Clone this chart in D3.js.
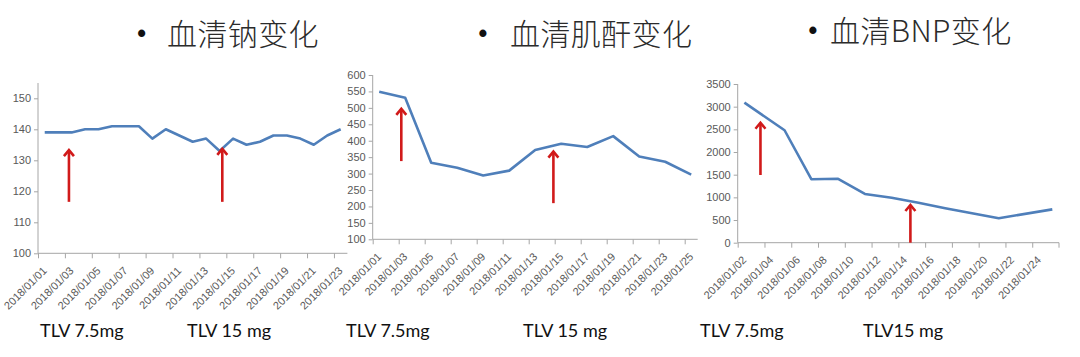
<!DOCTYPE html>
<html>
<head>
<meta charset="utf-8">
<script src="https://cdn.jsdelivr.net/npm/d3@7"></script>
<style>
  html, body { margin: 0; padding: 0; background: #ffffff; }
  svg { display: block; }
</style>
</head>
<body>
<svg id="chart" width="1080" height="357"></svg>
<script>
// ---------- DATA ----------
const titles = ["血清钠变化", "血清肌酐变化", "血清BNP变化"];

// Serum sodium
const naDates = ["2018/01/01","2018/01/02","2018/01/03","2018/01/04","2018/01/05","2018/01/06","2018/01/07","2018/01/08",
  "2018/01/09","2018/01/10","2018/01/11","2018/01/12","2018/01/13","2018/01/14","2018/01/15","2018/01/16",
  "2018/01/17","2018/01/18","2018/01/19","2018/01/20","2018/01/21","2018/01/22","2018/01/23"];
const naValues = [139,139,139,140,140,141,141,141,137,140,138,136,137,133,137,135,136,138,138,137,135,138,140];
const naTickLabels = ["2018/01/01","2018/01/03","2018/01/05","2018/01/07","2018/01/09","2018/01/11",
  "2018/01/13","2018/01/15","2018/01/17","2018/01/19","2018/01/21","2018/01/23"];
const naYTicks = [100,110,120,130,140,150];
const naArrows = [ {at:"2018/01/03", shift:-0.2, from:116.6, to:133.6},
                   {at:"2018/01/14", shift:0.2, from:116.6, to:134} ];
const naNotes = ["TLV 7.5mg", "TLV 15 mg"];

// Serum creatinine
const crDates = ["2018/01/01","2018/01/03","2018/01/05","2018/01/07","2018/01/09","2018/01/11","2018/01/13",
  "2018/01/15","2018/01/17","2018/01/19","2018/01/21","2018/01/23","2018/01/25"];
const crValues = [549,531,333,318,294,309,372,391,381,414,352,336,297];
const crTickLabels = ["2018/01/01","2018/01/03","2018/01/05","2018/01/07","2018/01/09","2018/01/11","2018/01/13",
  "2018/01/15","2018/01/17","2018/01/19","2018/01/21","2018/01/23","2018/01/25"];
const crYTicks = [100,150,200,250,300,350,400,450,500,550,600];
const crArrows = [ {at:"2018/01/03", shift:-0.3, from:338, to:500},
                   {at:"2018/01/14", shift:0.4, from:210, to:370} ];
const crNotes = ["TLV 7.5mg", "TLV 15 mg"];

// Serum BNP
const bnpDates = ["2018/01/02","2018/01/05","2018/01/07","2018/01/09","2018/01/11","2018/01/13","2018/01/15",
  "2018/01/17","2018/01/19","2018/01/21","2018/01/25"];
const bnpValues = [3090,2480,1400,1410,1075,990,880,760,650,540,735];
const bnpTickLabels = ["2018/01/02","2018/01/04","2018/01/06","2018/01/08","2018/01/10","2018/01/12",
  "2018/01/14","2018/01/16","2018/01/18","2018/01/20","2018/01/22","2018/01/24"];
const bnpYTicks = [0,500,1000,1500,2000,2500,3000,3500];
const bnpArrows = [ {at:"2018/01/03", shift:0.2, from:1493, to:2668},
                    {at:"2018/01/14", shift:0.4, from:0, to:853} ];
const bnpNotes = ["TLV 7.5mg", "TLV15 mg"];

// ---------- LAYOUT ----------
const parse = d3.timeParse("%Y/%m/%d");
const DAY = 864e5;

const panels = [
  { title: titles[0], bulletX: 141.7, bulletY: 34, titleX: 167, titleY: 45,
    dates: naDates, values: naValues, ticks: naTickLabels, yTicks: naYTicks, arrows: naArrows, notes: naNotes,
    start: "2018/01/01", days: 23, left: 38, right: 347.4, top: 98.3, bottom: 253.3, axisTop: 83,
    yDomain: [100,150], endTick: false, noteX: [40, 187] },
  { title: titles[1], bulletX: 483, bulletY: 34, titleX: 510, titleY: 45,
    dates: crDates, values: crValues, ticks: crTickLabels, yTicks: crYTicks, arrows: crArrows, notes: crNotes,
    start: "2018/01/01", days: 25, left: 372.7, right: 697.7, top: 75, bottom: 239.3, axisTop: 75,
    yDomain: [100,600], endTick: false, noteX: [346, 523] },
  { title: titles[2], bulletX: 813, bulletY: 31, titleX: 830, titleY: 42,
    dates: bnpDates, values: bnpValues, ticks: bnpTickLabels, yTicks: bnpYTicks, arrows: bnpArrows, notes: bnpNotes,
    start: "2018/01/02", days: 24, left: 737.7, right: 1059, top: 84, bottom: 242.7, axisTop: 84,
    yDomain: [0,3500], endTick: true, noteX: [700, 863] }
];

const svg = d3.select("#chart");
const axisColor = "#a6a6a6";
const labelColor = "#595959";
const lineColor = "#4f7fba";
const arrowColor = "#d11a1a";

panels.forEach(p => {
  const t0 = parse(p.start);
  const x = d3.scaleTime()
    .domain([t0, new Date(+t0 + p.days * DAY)])
    .range([p.left, p.right]);
  const y = d3.scaleLinear().domain(p.yDomain).range([p.bottom, p.top]);
  const mid = s => new Date(+parse(s) + DAY / 2);

  // title
  const tg = svg.append("g");
  tg.append("text")
    .attr("x", p.bulletX).attr("y", p.bulletY + 8)
    .attr("font-family", "'Liberation Sans', Arial, sans-serif")
    .attr("font-weight", "bold")
    .attr("font-size", 25).attr("fill", "#111")
    .attr("text-anchor", "middle")
    .text("•");
  tg.append("text")
    .attr("x", p.titleX).attr("y", p.titleY)
    .attr("font-family", "'Noto Sans CJK SC', sans-serif")
    .attr("font-weight", 300)
    .attr("letter-spacing", 0.4)
    .attr("font-size", 30).attr("fill", "#2b2b2b")
    .text(p.title);

  // y axis
  const yAxis = d3.axisLeft(y).tickValues(p.yTicks).tickSize(4).tickPadding(3).tickFormat(d3.format("d"));
  const yg = svg.append("g").attr("transform", `translate(${p.left},0)`).call(yAxis);
  yg.select(".domain").remove();
  yg.selectAll(".tick line").attr("stroke", axisColor);
  yg.selectAll(".tick text").attr("fill", labelColor)
    .attr("font-family", "'Liberation Sans', Arial, sans-serif").attr("font-size", 11);
  svg.append("line")
    .attr("x1", p.left).attr("x2", p.left)
    .attr("y1", p.axisTop).attr("y2", p.bottom)
    .attr("stroke", axisColor).attr("stroke-width", 1);

  // x axis
  const tickDates = p.ticks.map(parse);
  const xAxis = d3.axisBottom(x).tickValues(tickDates).tickSize(5).tickFormat(d3.timeFormat("%Y/%m/%d"));
  const xg = svg.append("g").attr("transform", `translate(0,${p.bottom})`).call(xAxis);
  xg.select(".domain").attr("stroke", axisColor).attr("d", `M${p.left},0H${p.right}`);
  xg.selectAll(".tick line").attr("stroke", axisColor);
  xg.selectAll(".tick text")
    .attr("fill", labelColor)
    .attr("font-family", "'Liberation Sans', Arial, sans-serif").attr("font-size", 11)
    .attr("text-anchor", "end")
    .attr("x", 0).attr("y", 0).attr("dy", 0)
    .attr("transform", "translate(9,18) rotate(-45)");
  if (p.endTick) {
    xg.append("line").attr("x1", p.right).attr("x2", p.right)
      .attr("y1", 0).attr("y2", 5).attr("stroke", axisColor);
  }

  // line
  const pts = p.dates.map((d, i) => ({ t: mid(d), v: p.values[i] }));
  svg.append("path")
    .datum(pts)
    .attr("fill", "none")
    .attr("stroke", lineColor)
    .attr("stroke-width", 2.6)
    .attr("stroke-linejoin", "round")
    .attr("d", d3.line().x(d => x(d.t)).y(d => y(d.v)));

  // arrows
  p.arrows.forEach(a => {
    const ax = x(new Date(+mid(a.at) + a.shift * DAY));
    const tipY = y(a.to);
    svg.append("line")
      .attr("x1", ax).attr("x2", ax)
      .attr("y1", y(a.from)).attr("y2", tipY + 2)
      .attr("stroke", arrowColor).attr("stroke-width", 2.6);
    svg.append("path")
      .attr("d", `M${ax - 5},${tipY + 7} L${ax},${tipY + 1} L${ax + 5},${tipY + 7}`)
      .attr("fill", "none")
      .attr("stroke", arrowColor)
      .attr("stroke-width", 2.6)
      .attr("stroke-linejoin", "miter");
  });

  // notes
  p.notes.forEach((n, i) => {
    svg.append("text")
      .attr("x", p.noteX[i]).attr("y", 337)
      .attr("font-family", "Lato, 'Open Sans', sans-serif")
      .attr("font-size", 18).attr("fill", "#111")
      .text(n);
  });
});
</script>
</body>
</html>
